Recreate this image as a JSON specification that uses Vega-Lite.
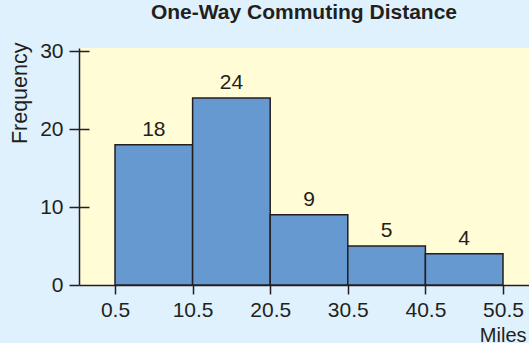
{
  "$schema": "https://vega.github.io/schema/vega-lite/v6.json",
  "width": 450,
  "height": 237,
  "autosize": {"type": "none"},
  "padding": {"left": 79, "top": 48, "right": 0, "bottom": 58},
  "background": "#dff1fc",
  "config": {
    "font": "Liberation Sans",
    "view": {"fill": "#fffcd6", "stroke": null},
    "axis": {"grid": false, "domainColor": "#231f20", "tickColor": "#231f20", "domainWidth": 1.5, "tickWidth": 1.5, "labelColor": "#231f20", "titleColor": "#231f20", "labelFont": "Liberation Sans", "titleFont": "Liberation Sans"}
  },
  "title": {"text": "One-Way Commuting Distance", "fontSize": 21, "fontWeight": "bold", "color": "#231f20", "anchor": "middle", "frame": "group", "baseline": "bottom", "offset": -4, "font": "Liberation Sans"},
  "data": {"values": [
    {"bin_start": 0.5, "bin_end": 10.5, "midpoint": 5.5, "frequency": 18},
    {"bin_start": 10.5, "bin_end": 20.5, "midpoint": 15.5, "frequency": 24},
    {"bin_start": 20.5, "bin_end": 30.5, "midpoint": 25.5, "frequency": 9},
    {"bin_start": 30.5, "bin_end": 40.5, "midpoint": 35.5, "frequency": 5},
    {"bin_start": 40.5, "bin_end": 50.5, "midpoint": 45.5, "frequency": 4}
  ]},
  "layer": [
    {
      "mark": {"type": "bar", "fill": "#6699d0", "stroke": "#231f20", "strokeWidth": 1.5},
      "encoding": {
        "x": {"field": "bin_start", "type": "quantitative", "scale": {"domain": [-4.14, 53.85], "nice": false, "zero": false},
          "axis": {"values": [0.5, 10.5, 20.5, 30.5, 40.5, 50.5], "format": ".1f", "tickSize": 9, "labelPadding": 5, "labelFontSize": 21, "labelFlush": false, "title": "Miles", "titleX": 447, "titleAlign": "right", "titleFontSize": 20, "titleFontWeight": "normal", "titlePadding": 5}},
        "x2": {"field": "bin_end"},
        "y": {"field": "frequency", "type": "quantitative", "scale": {"domain": [0, 30.4], "nice": false},
          "axis": {"orient": "left", "values": [0, 10, 20, 30], "tickSize": 10, "labelPadding": 6, "labelFontSize": 21, "title": "Frequency", "titleAngle": -90, "titleX": -53, "titleY": -6, "titleAlign": "right", "titleBaseline": "alphabetic", "titleFontSize": 21.5, "titleFontWeight": "normal"}},
        "y2": {"datum": 0}
      }
    },
    {
      "mark": {"type": "text", "fontSize": 21, "color": "#231f20", "baseline": "alphabetic", "dy": -9, "font": "Liberation Sans"},
      "encoding": {
        "x": {"field": "midpoint", "type": "quantitative"},
        "y": {"field": "frequency", "type": "quantitative",
          "axis": {"orient": "left", "values": [10, 20, 30], "tickSize": -10, "labels": false, "domain": false, "title": null}},
        "text": {"field": "frequency", "type": "quantitative"}
      }
    }
  ],
  "resolve": {"axis": {"y": "independent"}}
}
